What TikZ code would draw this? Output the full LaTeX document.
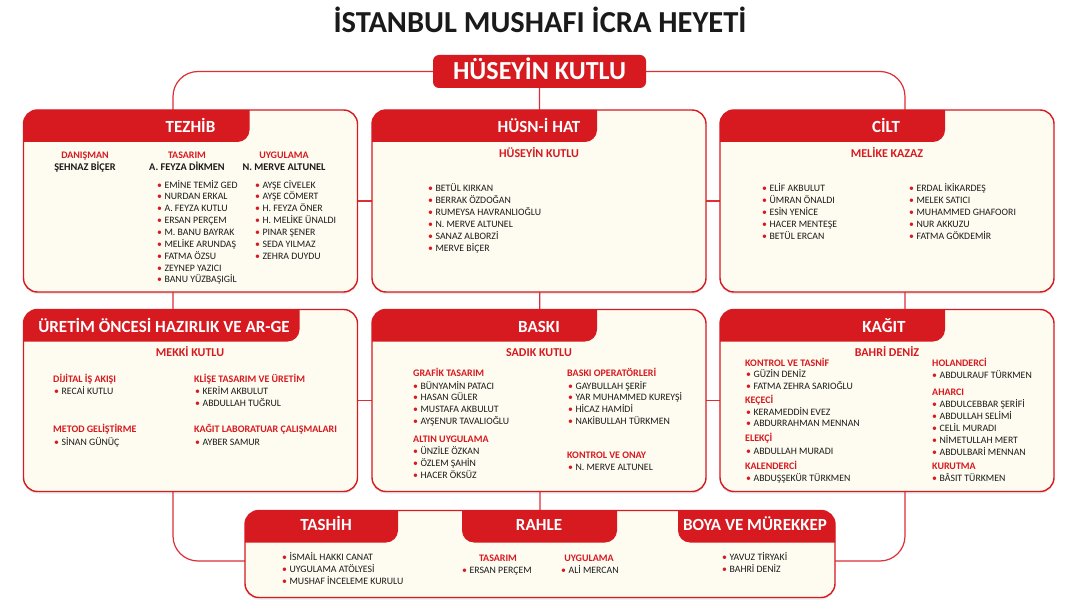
\documentclass[tikz,border=0pt]{standalone}
\usepackage{fontspec}
\setmainfont{Carlito}
\usetikzlibrary{calc,shadows,backgrounds}
\definecolor{brand}{HTML}{D71920}
\definecolor{paper}{HTML}{FEFCF0}
\definecolor{ink}{HTML}{1A1A1A}
\definecolor{linkcol}{HTML}{DC2F36}
\tikzset{
  link/.style={draw=linkcol,line width=1.2pt},
  panel/.style={rectangle,rounded corners=14pt,fill=paper,inner sep=0pt,outer sep=0pt,minimum width=334pt,minimum height=182pt,drop shadow={opacity=0.18,shadow xshift=0pt,shadow yshift=-2pt}},
  rim/.style={draw=brand,line width=1.4pt,rounded corners=14pt},
  tabtitle/.style={inner sep=0pt,text=white,font=\bfseries\fontsize{17}{20}\selectfont,text height=10.9pt,text depth=0pt},
  chief/.style={fill=brand,rounded corners=6pt,minimum width=213pt,minimum height=33pt,inner sep=0pt,text=white,font=\bfseries\fontsize{26}{29}\selectfont,text height=16.7pt,text depth=0pt},
  lead/.style={inner sep=0pt,text=brand,font=\bfseries\fontsize{12}{14}\selectfont,text height=7.7pt,text depth=0pt},
  role/.style={inner sep=0pt,text=brand,font=\bfseries\fontsize{10}{12}\selectfont,text height=6.4pt,text depth=0pt},
  boss/.style={inner sep=0pt,text=ink,font=\bfseries\fontsize{10.3}{12}\selectfont,text height=6.6pt,text depth=0pt},
  item/.style={anchor=west,inner sep=0pt,text=ink,font=\fontsize{9.8}{11}\selectfont,text height=6.3pt,text depth=0pt},
}
\newcommand{\bul}{\textcolor{brand}{\textbullet}\hspace{2.5pt}}
\newcommand{\headtab}[3]{%
  \begin{scope}
    \clip[rounded corners=14pt] (#1.north west) rectangle (#1.south east);
    \fill[brand,rounded corners=12pt] ($(#1.north west)+(#2,-20)$) rectangle ($(#1.north west)+(#3,32)$);
  \end{scope}}

\begin{document}
\begin{tikzpicture}[x=1pt,y=-1pt]
  \useasboundingbox (0,0) rectangle (1080,615);
  \node[inner sep=0pt,font=\bfseries\fontsize{30.5}{33}\selectfont,text=ink,text height=19.6pt,text depth=0pt] (title) at (540,23) {İSTANBUL MUSHAFI İCRA HEYETİ};
  \node[chief] (chief) at (539.5,71.5) {HÜSEYİN KUTLU};
  \coordinate (frameSW) at (173,561);
  \coordinate (frameNE) at (905,71.5);

  % panels
  \node[panel] (tezhib) at (190.5,201) {};
  \node[panel] (hat) at (539,201) {};
  \node[panel] (cilt) at (887,201) {};
  \node[panel] (uretim) at (190.5,400.5) {};
  \node[panel] (baski) at (539,400.5) {};
  \node[panel] (kagit) at (887,400.5) {};
  \node[panel,minimum width=590pt,minimum height=87pt] (alt) at (540,554) {};
  \headtab{tezhib}{-20}{226}
  \headtab{hat}{-20}{225}
  \headtab{cilt}{-20}{225}
  \headtab{uretim}{-20}{276}
  \headtab{baski}{-20}{225}
  \headtab{kagit}{-20}{225}
  \headtab{alt}{-20}{153}
  \headtab{alt}{217}{372}
  \headtab{alt}{433}{610}
  \foreach \b in {tezhib,hat,cilt,uretim,baski,kagit,alt}
    \draw[rim] (\b.north west) rectangle (\b.south east);

  % tezhib
  \node[tabtitle] (tezhib-t) at (190.5,127) {TEZHİB};
  \node[role] (tz-r1) at (85,155) {DANIŞMAN};
  \node[boss] (tz-b1) at (85,167) {ŞEHNAZ BİÇER};
  \node[role] (tz-r2) at (187,155) {TASARIM};
  \node[boss] (tz-b2) at (187,167) {A. FEYZA DİKMEN};
  \node[role] (tz-r3) at (284,155) {UYGULAMA};
  \node[boss] (tz-b3) at (284,167) {N. MERVE ALTUNEL};
  \foreach \n [count=\i from 0] in {EMİNE TEMİZ GED,NURDAN ERKAL,A. FEYZA KUTLU,ERSAN PERÇEM,M. BANU BAYRAK,MELİKE ARUNDAŞ,FATMA ÖZSU,ZEYNEP YAZICI,BANU YÜZBAŞIGİL}
    \node[item] (tz-t\i) at (157,185+11.85*\i) {\bul\n};
  \foreach \n [count=\i from 0] in {AYŞE CİVELEK,AYŞE CÖMERT,H. FEYZA ÖNER,H. MELİKE ÜNALDI,PINAR ŞENER,SEDA YILMAZ,ZEHRA DUYDU}
    \node[item] (tz-u\i) at (255,185+11.85*\i) {\bul\n};

  % husn-i hat
  \node[tabtitle] (hat-t) at (539,127) {HÜSN-İ HAT};
  \node[lead] (hat-l) at (539,154) {HÜSEYİN KUTLU};
  \foreach \n [count=\i from 0] in {BETÜL KIRKAN,BERRAK ÖZDOĞAN,RUMEYSA HAVRANLIOĞLU,N. MERVE ALTUNEL,SANAZ ALBORZİ,MERVE BİÇER}
    \node[item] (hat-\i) at (428,188+12*\i) {\bul\n};

  % cilt
  \node[tabtitle] (cilt-t) at (886,127) {CİLT};
  \node[lead] (cilt-l) at (887,154) {MELİKE KAZAZ};
  \foreach \n [count=\i from 0] in {ELİF AKBULUT,ÜMRAN ÖNALDI,ESİN YENİCE,HACER MENTEŞE,BETÜL ERCAN}
    \node[item] (cl-a\i) at (762,188+12*\i) {\bul\n};
  \foreach \n [count=\i from 0] in {ERDAL İKİKARDEŞ,MELEK SATICI,MUHAMMED GHAFOORI,NUR AKKUZU,FATMA GÖKDEMİR}
    \node[item] (cl-b\i) at (909,188+12*\i) {\bul\n};

  % uretim oncesi
  \node[tabtitle] (uretim-t) at (164,327) {ÜRETİM ÖNCESİ HAZIRLIK VE AR-GE};
  \node[lead] (ur-l) at (190,353) {MEKKİ KUTLU};
  \node[role,anchor=west] (ur-r1) at (53,379) {DİJİTAL İŞ AKIŞI};
  \node[item] (ur-a0) at (54,391) {\bul RECAİ KUTLU};
  \node[role,anchor=west] (ur-r2) at (53,429) {METOD GELİŞTİRME};
  \node[item] (ur-b0) at (54,442) {\bul SİNAN GÜNÜÇ};
  \node[role,anchor=west] (ur-r3) at (194,379) {KLİŞE TASARIM VE ÜRETİM};
  \node[item] (ur-c0) at (195,391) {\bul KERİM AKBULUT};
  \node[item] (ur-c1) at (195,403) {\bul ABDULLAH TUĞRUL};
  \node[role,anchor=west] (ur-r4) at (194,429) {KAĞIT LABORATUAR ÇALIŞMALARI};
  \node[item] (ur-d0) at (195,442) {\bul AYBER SAMUR};

  % baski
  \node[tabtitle] (baski-t) at (539,327) {BASKI};
  \node[lead] (bs-l) at (539,353) {SADIK KUTLU};
  \node[role,anchor=west] (bs-r1) at (413,373) {GRAFİK TASARIM};
  \foreach \n [count=\i from 0] in {BÜNYAMİN PATACI,HASAN GÜLER,MUSTAFA AKBULUT,AYŞENUR TAVALIOĞLU}
    \node[item] (bs-a\i) at (413,386+11.7*\i) {\bul\n};
  \node[role,anchor=west] (bs-r2) at (413,439) {ALTIN UYGULAMA};
  \foreach \n [count=\i from 0] in {ÜNZİLE ÖZKAN,ÖZLEM ŞAHİN,HACER ÖKSÜZ}
    \node[item] (bs-b\i) at (413,451+12*\i) {\bul\n};
  \node[role,anchor=west] (bs-r3) at (567,373) {BASKI OPERATÖRLERİ};
  \foreach \n [count=\i from 0] in {GAYBULLAH ŞERİF,YAR MUHAMMED KUREYŞİ,HİCAZ HAMİDİ,NAKİBULLAH TÜRKMEN}
    \node[item] (bs-c\i) at (568,386+11.7*\i) {\bul\n};
  \node[role,anchor=west] (bs-r4) at (567,455) {KONTROL VE ONAY};
  \node[item] (bs-d0) at (568,467) {\bul N. MERVE ALTUNEL};

  % kagit
  \node[tabtitle] (kagit-t) at (884,327) {KAĞIT};
  \node[lead] (kg-l) at (887,353) {BAHRİ DENİZ};
  \node[role,anchor=west] (kg-r1) at (745,363) {KONTROL VE TASNİF};
  \node[item] (kg-a0) at (746,374) {\bul GÜZİN DENİZ};
  \node[item] (kg-a1) at (746,386) {\bul FATMA ZEHRA SARIOĞLU};
  \node[role,anchor=west] (kg-r2) at (745,400) {KEÇECİ};
  \node[item] (kg-b0) at (746,412) {\bul KERAMEDDİN EVEZ};
  \node[item] (kg-b1) at (746,423) {\bul ABDURRAHMAN MENNAN};
  \node[role,anchor=west] (kg-r3) at (745,438) {ELEKÇİ};
  \node[item] (kg-c0) at (746,451) {\bul ABDULLAH MURADI};
  \node[role,anchor=west] (kg-r4) at (745,466) {KALENDERCİ};
  \node[item] (kg-d0) at (746,478) {\bul ABDUŞŞEKÜR TÜRKMEN};
  \node[role,anchor=west] (kg-r5) at (932,363) {HOLANDERCİ};
  \node[item] (kg-e0) at (932,375) {\bul ABDULRAUF TÜRKMEN};
  \node[role,anchor=west] (kg-r6) at (932,392) {AHARCI};
  \foreach \n [count=\i from 0] in {ABDULCEBBAR ŞERİFİ,ABDULLAH SELİMİ,CELİL MURADI,NİMETULLAH MERT,ABDULBARİ MENNAN}
    \node[item] (kg-f\i) at (932,404+12*\i) {\bul\n};
  \node[role,anchor=west] (kg-r7) at (932,466) {KURUTMA};
  \node[item] (kg-g0) at (932,478) {\bul BÂSIT TÜRKMEN};

  % tashih / rahle / boya
  \node[tabtitle] (tashih-t) at (326,525) {TASHİH};
  \node[tabtitle] (rahle-t) at (539,525) {RAHLE};
  \node[tabtitle] (boya-t) at (755,525) {BOYA VE MÜREKKEP};
  \foreach \n [count=\i from 0] in {İSMAİL HAKKI CANAT,UYGULAMA ATÖLYESİ,MUSHAF İNCELEME KURULU}
    \node[item] (th-\i) at (282,557+12*\i) {\bul\n};
  \node[role] (rh-r1) at (498,558) {TASARIM};
  \node[item] (rh-a0) at (462,570) {\bul ERSAN PERÇEM};
  \node[role] (rh-r2) at (589,558) {UYGULAMA};
  \node[item] (rh-b0) at (561,570) {\bul ALİ MERCAN};
  \foreach \n [count=\i from 0] in {YAVUZ TİRYAKİ,BAHRİ DENİZ}
    \node[item] (by-\i) at (722,557+12*\i) {\bul\n};

  % connectors
  \begin{scope}[on background layer]
    \fill[white] (0,0) rectangle (1080,615);
    \draw[link,rounded corners=25pt] (chief.west) -| (frameSW) -| (frameNE) -- (chief.east);
    \draw[link] (chief.south) -- (alt.north);
    \draw[link] (tezhib.east) -- (cilt.west);
    \draw[link] (uretim.east) -- (kagit.west);
  \end{scope}
\end{tikzpicture}
\end{document}
